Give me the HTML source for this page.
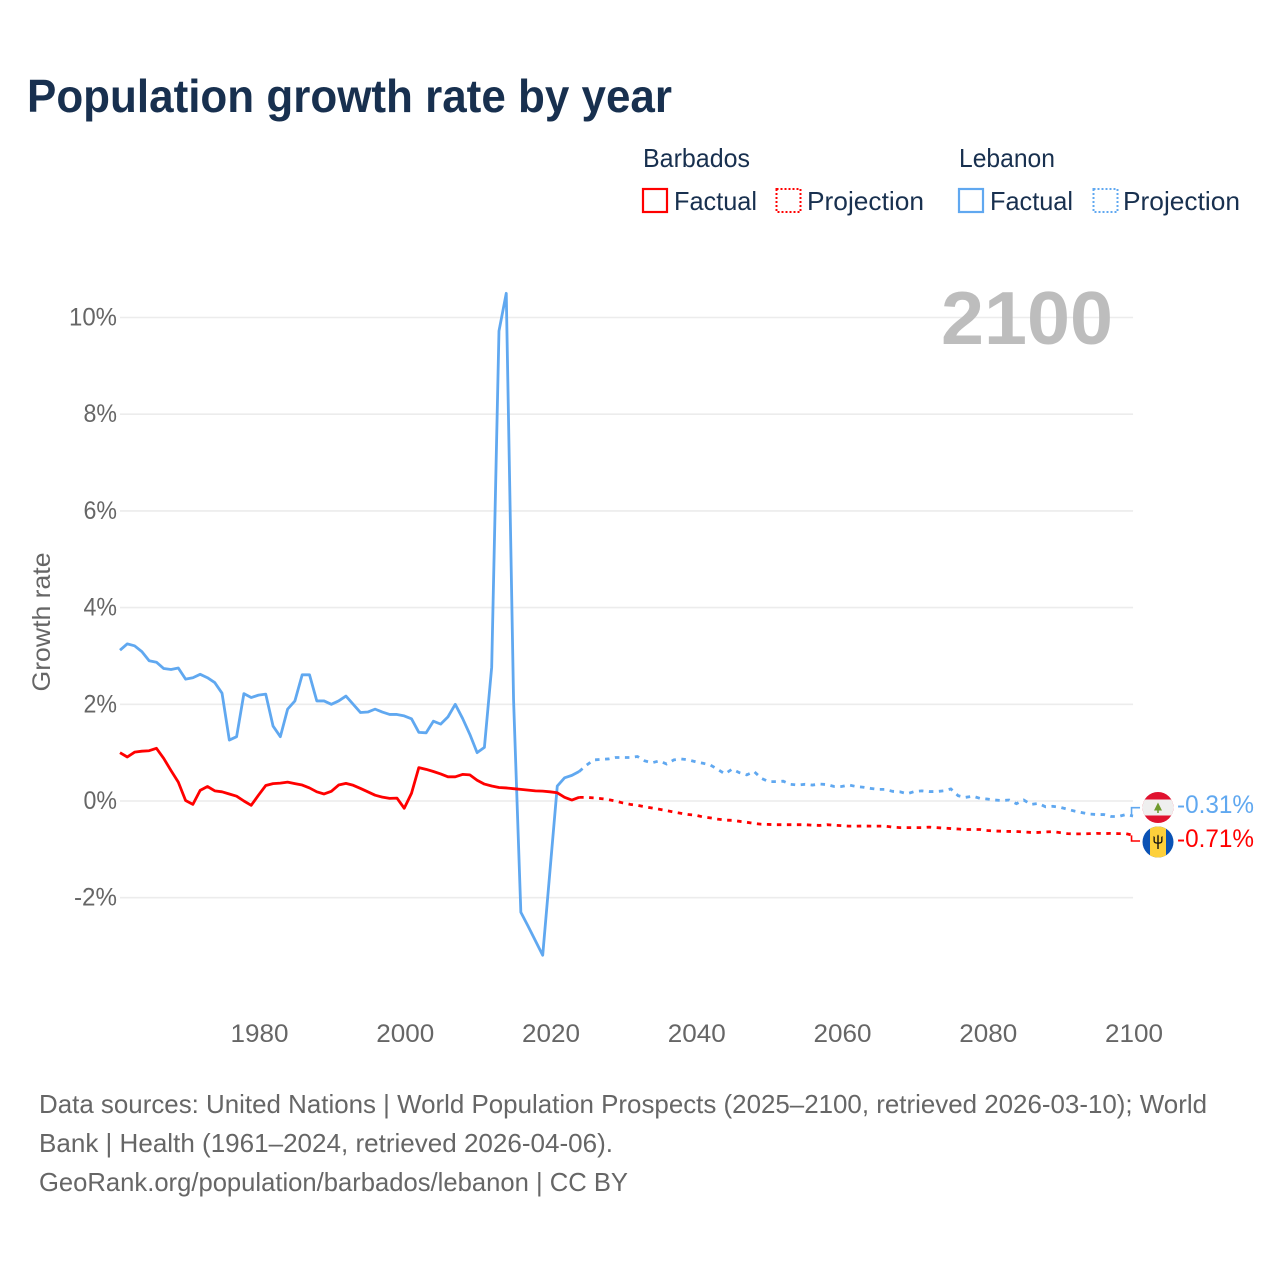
<!DOCTYPE html>
<html lang="en">
<head>
<meta charset="utf-8">
<title>Population growth rate by year</title>
<style>
html,body{margin:0;padding:0;background:#fff;width:1280px;height:1280px;overflow:hidden}
svg{display:block}
text{font-family:"Liberation Sans",sans-serif}
</style>
</head>
<body>
<svg id="chart" xmlns="http://www.w3.org/2000/svg" width="1280" height="1280" viewBox="0 0 1280 1280">
  <rect x="0" y="0" width="1280" height="1280" fill="#ffffff"/>
  <text x="27" y="112" font-size="46" font-weight="700" fill="#18304f" textLength="645" lengthAdjust="spacingAndGlyphs">Population growth rate by year</text>

  <g font-size="26" fill="#18304f">
    <text x="643" y="167" textLength="107" lengthAdjust="spacingAndGlyphs">Barbados</text>
    <text x="959" y="167" textLength="96" lengthAdjust="spacingAndGlyphs">Lebanon</text>
    <g>
      <rect x="643" y="189" width="24" height="23" fill="none" stroke="#ff0000" stroke-width="2.2"/>
      <text x="674" y="210" textLength="83" lengthAdjust="spacingAndGlyphs">Factual</text>
    </g>
    <g>
      <rect x="776.5" y="189" width="24" height="23" fill="none" stroke="#ff0000" stroke-width="2" stroke-dasharray="2 2"/>
      <text x="807" y="210" textLength="117" lengthAdjust="spacingAndGlyphs">Projection</text>
    </g>
    <g>
      <rect x="959" y="189" width="24" height="23" fill="none" stroke="#60a8f0" stroke-width="2.2"/>
      <text x="990" y="210" textLength="83" lengthAdjust="spacingAndGlyphs">Factual</text>
    </g>
    <g>
      <rect x="1093.5" y="189" width="24" height="23" fill="none" stroke="#60a8f0" stroke-width="2" stroke-dasharray="2 2"/>
      <text x="1123" y="210" textLength="117" lengthAdjust="spacingAndGlyphs">Projection</text>
    </g>
  </g>

  <g id="grid"></g>
  <text x="941" y="344" font-size="75" font-weight="700" fill="#bdbdbd" textLength="172" lengthAdjust="spacingAndGlyphs">2100</text>
  <g id="yticks" font-size="25" fill="#666666"></g>
  <g id="xticks" font-size="25" fill="#666666"></g>
  <text transform="translate(50 622) rotate(-90)" text-anchor="middle" font-size="25" fill="#666666" textLength="139" lengthAdjust="spacingAndGlyphs">Growth rate</text>
  <g id="series"></g>

  <g>
    <clipPath id="clip-lb"><circle cx="1158" cy="807.5" r="15.5"/></clipPath>
    <g clip-path="url(#clip-lb)">
      <rect x="1142" y="792" width="32" height="32" fill="#e0122f"/>
      <rect x="1142" y="799.5" width="32" height="16" fill="#efefef"/>
      <path d="M1158 802.5 l4 8 h-3.2 v2.5 h-1.6 v-2.5 h-3.2z" fill="#6f9a2e"/>
    </g>
  </g>
  <g>
    <clipPath id="clip-bb"><circle cx="1158" cy="842" r="15.5"/></clipPath>
    <g clip-path="url(#clip-bb)">
      <rect x="1142" y="826" width="32" height="32" fill="#0a52b5"/>
      <rect x="1150" y="826" width="16" height="32" fill="#fdd03b"/>
      <path d="M1153.5 836 v5 q0 2.5 3.8 2.8 v5.2 h1.4 v-5.2 q3.8 -.3 3.8 -2.8 v-5 l-1.3 1 v4 q0 1.2 -2.5 1.5 v-6.8 l-.7 -1.2 -.7 1.2 v6.8 q-2.5 -.3 -2.5 -1.5 v-4z" fill="#111"/>
    </g>
  </g>
  <text id="label-lb" x="1177" y="813" font-size="25" fill="#60a8f0" textLength="77" lengthAdjust="spacingAndGlyphs"></text>
  <text id="label-bb" x="1177" y="847" font-size="25" fill="#ff0000" textLength="77" lengthAdjust="spacingAndGlyphs"></text>

  <g font-size="26" fill="#666666">
    <text x="39" y="1113" textLength="1168" lengthAdjust="spacingAndGlyphs">Data sources: United Nations | World Population Prospects (2025–2100, retrieved 2026-03-10); World</text>
    <text x="39" y="1152" textLength="574" lengthAdjust="spacingAndGlyphs">Bank | Health (1961–2024, retrieved 2026-04-06).</text>
    <text x="39" y="1191" textLength="589" lengthAdjust="spacingAndGlyphs">GeoRank.org/population/barbados/lebanon | CC BY</text>
  </g>
</svg>
<script>
const startYear = 1961;
const lastFactualYear = 2024;
const yTicks = [-2, 0, 2, 4, 6, 8, 10];
const xTicks = [1980, 2000, 2020, 2040, 2060, 2080, 2100];

const lebanonValues = [
  3.12,3.25,3.21,3.09,2.90,2.87,2.74,2.72,2.75,2.52,
  2.55,2.62,2.55,2.45,2.23,1.26,1.33,2.22,2.14,2.19,
  2.21,1.55,1.33,1.90,2.07,2.61,2.61,2.07,2.07,2.00,
  2.07,2.17,2.00,1.83,1.84,1.90,1.84,1.79,1.79,1.76,
  1.70,1.42,1.41,1.65,1.59,1.74,2.00,1.71,1.38,1.00,
  1.11,2.77,9.72,10.50,2.10,-2.30,-2.59,-2.89,-3.19,-1.44,
  0.31,0.48,0.53,0.61,
  0.74,0.85,0.86,0.87,0.90,0.90,0.90,0.92,0.83,0.79,
  0.83,0.765,0.85,0.87,0.85,0.81,0.78,0.745,0.655,0.56,
  0.66,0.585,0.54,0.61,0.47,0.40,0.40,0.41,0.345,0.33,
  0.345,0.33,0.35,0.34,0.30,0.30,0.33,0.30,0.285,0.26,
  0.24,0.24,0.20,0.19,0.15,0.195,0.21,0.195,0.195,0.21,
  0.25,0.11,0.075,0.10,0.055,0.04,0.02,0.01,0.02,-0.055,
  0.02,-0.07,-0.05,-0.12,-0.11,-0.13,-0.17,-0.21,-0.24,-0.27,
  -0.28,-0.28,-0.32,-0.32,-0.28,-0.31
];

const barbadosValues = [
  1.00,0.91,1.01,1.03,1.04,1.09,0.88,0.63,0.39,0.01,
  -0.07,0.22,0.30,0.21,0.19,0.145,0.10,0.00,-0.09,0.12,
  0.32,0.36,0.37,0.39,0.36,0.33,0.27,0.19,0.145,0.20,
  0.33,0.365,0.325,0.26,0.19,0.12,0.08,0.055,0.06,-0.15,
  0.16,0.69,0.655,0.61,0.56,0.50,0.50,0.55,0.54,0.43,
  0.35,0.31,0.28,0.27,0.255,0.24,0.225,0.21,0.205,0.19,
  0.17,0.075,0.02,0.075,
  0.075,0.065,0.05,0.03,0.00,-0.04,-0.07,-0.09,-0.12,-0.145,
  -0.17,-0.20,-0.23,-0.255,-0.28,-0.295,-0.33,-0.35,-0.375,-0.395,
  -0.40,-0.42,-0.44,-0.465,-0.48,-0.485,-0.49,-0.49,-0.49,-0.49,
  -0.49,-0.50,-0.505,-0.49,-0.50,-0.51,-0.52,-0.52,-0.517,-0.52,
  -0.52,-0.52,-0.54,-0.55,-0.55,-0.55,-0.55,-0.54,-0.55,-0.56,
  -0.57,-0.58,-0.59,-0.59,-0.59,-0.61,-0.62,-0.625,-0.63,-0.63,
  -0.64,-0.65,-0.65,-0.64,-0.635,-0.655,-0.675,-0.68,-0.68,-0.675,
  -0.67,-0.675,-0.67,-0.675,-0.675,-0.71
];

const NS = 'http://www.w3.org/2000/svg';
function xScale(year) { return 120 + (year - startYear) * 7.288; }
function yScale(v) { return 801 - v * 48.35; }
function pct(v) { return v + '%'; }
function tickWidth(s) {
  let w = 0;
  for (const c of s) w += c === '%' ? 19 : c === '-' ? 9.5 : 14.5;
  return w;
}
function linePath(values, from, to) {
  const parts = [];
  for (let i = from; i <= to; i++) {
    parts.push((i === from ? 'M' : 'L') + xScale(startYear + i).toFixed(2) + ' ' + yScale(values[i]).toFixed(2));
  }
  return parts.join(' ');
}

const gridG = document.getElementById('grid');
const yG = document.getElementById('yticks');
yTicks.forEach(function (t) {
  const ln = document.createElementNS(NS, 'line');
  
  
  ln.setAttribute('x1', xScale(startYear));
  ln.setAttribute('x2', xScale(2100));
  ln.setAttribute('y1', yScale(t));
  ln.setAttribute('y2', yScale(t));
  ln.setAttribute('stroke', '#ececec');
  ln.setAttribute('stroke-width', '1.6');
  gridG.appendChild(ln);
  const tx = document.createElementNS(NS, 'text');
  
  
  const s = pct(t);
  const w = tickWidth(s);
  tx.setAttribute('x', 117 - w);
  tx.setAttribute('y', yScale(t) + 8);
  tx.setAttribute('textLength', w);
  tx.setAttribute('lengthAdjust', 'spacingAndGlyphs');
  tx.textContent = s;
  yG.appendChild(tx);
});

const xG = document.getElementById('xticks');
xTicks.forEach(function (t) {
  const tx = document.createElementNS(NS, 'text');
  
  
  tx.setAttribute('x', xScale(t) - 28);
  tx.setAttribute('y', 1042);
  tx.setAttribute('textLength', 58);
  tx.setAttribute('lengthAdjust', 'spacingAndGlyphs');
  tx.textContent = String(t);
  xG.appendChild(tx);
});

const seriesG = document.getElementById('series');
function drawSeries(name, values, color, labelY) {
  const split = lastFactualYear - startYear;
  const end = values.length - 1;
  const solid = document.createElementNS(NS, 'path');
  
  
  solid.setAttribute('d', linePath(values, 0, split));
  solid.setAttribute('fill', 'none');
  solid.setAttribute('stroke', color);
  solid.setAttribute('stroke-width', '2.8');
  solid.setAttribute('stroke-linejoin', 'round');
  seriesG.appendChild(solid);
  const dash = document.createElementNS(NS, 'path');
  
  
  dash.setAttribute('d', linePath(values, split, end));
  dash.setAttribute('fill', 'none');
  dash.setAttribute('stroke', color);
  dash.setAttribute('stroke-width', '2.8');
  dash.setAttribute('stroke-dasharray', '4.5 5.5');
  seriesG.appendChild(dash);
  const xe = xScale(startYear + end);
  const conn = document.createElementNS(NS, 'path');
  
  
  conn.setAttribute('d', 'M' + (xe - 1.5) + ' ' + yScale(values[end]) + ' V' + labelY + ' H' + (xe + 7));
  conn.setAttribute('fill', 'none');
  conn.setAttribute('stroke', color);
  conn.setAttribute('stroke-width', '1.6');
  seriesG.appendChild(conn);
}
drawSeries('lebanon', lebanonValues, '#60a8f0', 807.7);
drawSeries('barbados', barbadosValues, '#ff0000', 841);

document.getElementById('label-lb').textContent = pct(lebanonValues[lebanonValues.length - 1]);
document.getElementById('label-bb').textContent = pct(barbadosValues[barbadosValues.length - 1]);
</script>
</body>
</html>
